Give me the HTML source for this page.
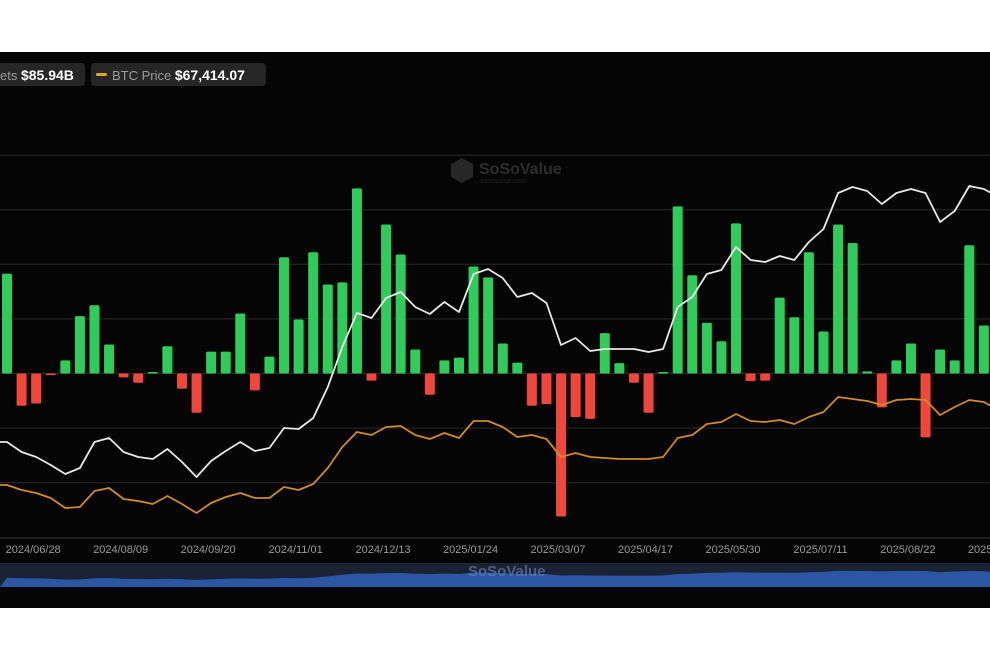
<!DOCTYPE html>
<html><head><meta charset="utf-8"><style>
html,body{margin:0;padding:0;background:#fff;width:990px;height:660px;overflow:hidden;font-family:"Liberation Sans",sans-serif}
#chart{position:absolute;left:0;top:52px;width:990px;height:556px;background:#050505}
</style></head><body>
<div id="chart">
<svg id="svg" width="990" height="556" viewBox="0 52 990 556" style="position:absolute;left:0;top:0">
  <defs><clipPath id="clip"><rect x="0" y="140" width="990" height="398"/></clipPath></defs>
  <g id="legend">
    <rect x="-6" y="63" width="91" height="23" rx="4" fill="#262626"/>
    <text x="0" y="80" fill="#9a9a9a" font-size="13">ets <tspan fill="#fff" font-weight="bold" font-size="14">$85.94B</tspan></text>
    <rect x="91" y="63" width="175" height="23" rx="4" fill="#262626"/>
    <rect x="96" y="73" width="11" height="3" rx="1.5" fill="#e3a531"/>
    <text x="112" y="80" fill="#9a9a9a" font-size="13">BTC Price <tspan fill="#fff" font-weight="bold" font-size="14">$67,414.07</tspan></text>
  </g>
  <g id="grid"></g>
  <g id="watermark" opacity="0.35">
    <polygon points="462,158 473,164 473,177 462,183 451,177 451,164" fill="#666"/>
    <text x="479" y="174" fill="#777" font-size="16" font-weight="bold">SoSoValue</text>
    <text x="480" y="183" fill="#555" font-size="7">sosovalue.com</text>
  </g>
  <g id="bars" clip-path="url(#clip)"></g>
  <g id="lines" clip-path="url(#clip)"></g>
  <line x1="0" y1="538" x2="990" y2="538" stroke="#3a3a3a" stroke-width="1"/>
  <g id="xlabels"></g>
  <g id="navigator">
    <rect x="0" y="563" width="990" height="24" fill="#1b2233"/>
    <path id="navarea" fill="#2b56a3"/>
    <text x="468" y="576" fill="#6f86b8" font-size="15" font-weight="bold" opacity="0.6">SoSoValue</text>
  </g>
</svg>
</div>
<script>
const flows = [1.83,-0.59,-0.55,-0.03,0.24,1.05,1.25,0.53,-0.07,-0.17,0.02,0.5,-0.28,-0.72,0.40,0.40,1.1,-0.31,0.31,2.13,0.99,2.22,1.63,
1.67,3.39,-0.13,2.73,2.18,0.44,-0.39,0.24,0.29,1.96,1.76,0.55,0.20,-0.59,-0.56,-2.62,-0.8,-0.83,0.74,0.19,-0.17,-0.72,
0.01,3.06,1.8,0.93,0.59,2.75,-0.14,-0.13,1.39,1.03,2.22,0.77,2.73,2.39,0.04,-0.62,0.24,0.55,-1.17,0.44,0.24,2.35,0.88];
const netAssets = [96,86,81,73,64,70,96,100,86,81,79,89,76,61,77,87,96,87,90,110,109,120,151,
191,225,220,240,246,231,224,236,226,264,269,260,241,245,235,193,200,187,189,189,189,186,
189,231,241,264,268,291,278,276,282,278,296,309,345,351,347,334,345,349,345,316,327,352,349];
const btcPrice = [53,48,45,40,30,31,47,50,39,37,34,42,34,25,35,41,45,40,40,51,48,54,70,
91,106,103,111,112,103,99,105,100,117,117,111,101,103,99,81,85,81,80,79,79,79,
81,100,103,114,116,124,117,116,118,114,121,126,141,139,137,133,138,139,138,123,131,138,136];
const tickLabels = ["2024/06/28","2024/08/09","2024/09/20","2024/11/01","2024/12/13","2025/01/24","2025/03/07","2025/04/17","2025/05/30","2025/07/11","2025/08/22","2025/10/03"];
const gridValues = [4,3,2,1,0,-1,-2];

const NS="http://www.w3.org/2000/svg";
const xS = i => 7 + i*14.58;
const yFlow = v => 373.5 - v*54.6;
const yLine = v => 538 - v;
function mk(tag, attrs, parent){const e=document.createElementNS(NS,tag);for(const k in attrs)e.setAttribute(k,attrs[k]);parent.appendChild(e);return e;}

const grid=document.getElementById('grid');
gridValues.forEach(v=>{
  const l=mk('line',{x1:0,x2:990,y1:yFlow(v),y2:yFlow(v),stroke:'#2b2b2b','stroke-width':1},grid);
  
  
});

const bars=document.getElementById('bars');
flows.forEach((v,i)=>{
  const y0=yFlow(0), y1=yFlow(v);
  const h=Math.max(1.5,Math.abs(y1-y0));
  const r=mk('rect',{x:xS(i)-5,y:v>=0?y0-h:y0,width:10,height:h,rx:1.5,fill:v>=0?'#2fcc5a':'#f0473c'},bars);
  
  
});

function linePath(arr){
  let d='M'+(xS(-1))+','+yLine(arr[0]);
  arr.forEach((v,i)=>{d+=' L'+xS(i).toFixed(1)+','+yLine(v).toFixed(1);});
  d+=' L'+xS(arr.length)+','+yLine(arr[arr.length-1]-8);
  return d;
}
const lines=document.getElementById('lines');
const wl=mk('path',{d:linePath(netAssets),fill:'none',stroke:'#e8e8e8','stroke-width':1.8,'stroke-linejoin':'round'},lines);


const ol=mk('path',{d:linePath(btcPrice),fill:'none',stroke:'#d08a2c','stroke-width':1.8,'stroke-linejoin':'round'},lines);



const xl=document.getElementById('xlabels');
tickLabels.forEach((t,k)=>{
  const tx=mk('text',{x:xS(2+k*6)-3,y:553,fill:'#9a9a9a','font-size':11,'text-anchor':'middle'},xl);
  tx.textContent=t;
  
  
});

let nd='M0,587';
btcPrice.forEach((v,i)=>{nd+=' L'+(xS(i)).toFixed(1)+','+(582 - v*0.08).toFixed(1);});
nd+=' L990,572 L990,587 Z';
document.getElementById('navarea').setAttribute('d',nd);
</script>
</body></html>
